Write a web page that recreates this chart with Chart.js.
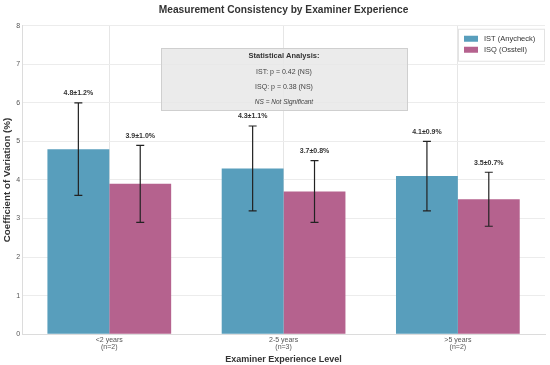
<!DOCTYPE html>
<html>
<head>
<meta charset="utf-8">
<script src="https://cdn.jsdelivr.net/npm/chart.js@4.4.1/dist/chart.umd.min.js"></script>
<style>
  html, body { margin: 0; padding: 0; background: #fff; }
  #wrap { width: 550px; height: 365px; }
</style>
</head>
<body>
<div id="wrap"><canvas id="cvChart" width="550" height="365"></canvas></div>
<script>
const categories = [["<2 years", "(n=2)"], ["2-5 years", "(n=3)"], [">5 years", "(n=2)"]];
const istMean = [4.8, 4.3, 4.1];
const istSd = [1.2, 1.1, 0.9];
const isqMean = [3.9, 3.7, 3.5];
const isqSd = [1.0, 0.8, 0.7];
const statLines = ["Statistical Analysis:", "IST: p = 0.42 (NS)", "ISQ: p = 0.38 (NS)", "NS = Not Significant"];

const FONT = "'Liberation Sans', Arial, sans-serif";
const blue = "rgb(88,158,188)";
const pink = "rgb(181,98,142)";

// error bars + labels above them
const errorBars = {
    id: 'errorBars',
    afterDatasetsDraw(chart) {
        const ctx = chart.ctx;
        const y = chart.scales.y;
        const sds = [istSd, isqSd];
        chart.data.datasets.forEach((ds, di) => {
            const meta = chart.getDatasetMeta(di);
            meta.data.forEach((bar, i) => {
                const m = ds.data[i];
                const sd = sds[di][i];
                const x = bar.x;
                const yTop = y.getPixelForValue(m + sd);
                const yBot = y.getPixelForValue(m - sd);
                ctx.save();
                ctx.strokeStyle = '#222';
                ctx.lineWidth = 1.2;
                ctx.beginPath();
                ctx.moveTo(x, yTop); ctx.lineTo(x, yBot);
                ctx.moveTo(x - 4, yTop); ctx.lineTo(x + 4, yTop);
                ctx.moveTo(x - 4, yBot); ctx.lineTo(x + 4, yBot);
                ctx.stroke();
                ctx.fillStyle = '#333';
                ctx.font = 'bold 7px ' + FONT;
                ctx.textAlign = 'center';
                ctx.textBaseline = 'bottom';
                ctx.fillText(m.toFixed(1) + '\u00b1' + sd.toFixed(1) + '%', x, yTop - 6);
                ctx.restore();
            });
        });
    },
    afterDraw(chart) {
        const ctx = chart.ctx;
        const area = chart.chartArea;
        // stats box
        ctx.save();
        ctx.fillStyle = 'rgba(232,232,232,0.85)';
        ctx.strokeStyle = '#cfcfcf';
        ctx.lineWidth = 1;
        const bx = 161, by = 48, bw = 246, bh = 62;
        ctx.fillRect(bx, by, bw, bh);
        ctx.strokeRect(bx + 0.5, by + 0.5, bw, bh);
        ctx.textAlign = 'center';
        ctx.textBaseline = 'middle';
        const cx = bx + bw / 2;
        ctx.fillStyle = '#333';
        ctx.font = 'bold 7.5px ' + FONT;
        ctx.fillText(statLines[0], cx, 56);
        ctx.fillStyle = '#444';
        ctx.font = '7px ' + FONT;
        ctx.fillText(statLines[1], cx, 72);
        ctx.fillText(statLines[2], cx, 87);
        ctx.font = 'italic 6.5px ' + FONT;
        ctx.fillText(statLines[3], cx, 102);

        // legend
        const lx = area.right - 87, ly = area.top + 3;
        ctx.fillStyle = 'rgba(255,255,255,0.9)';
        ctx.strokeStyle = '#e3e3e3';
        ctx.fillRect(lx, ly, 86, 32);
        ctx.strokeRect(lx + 0.5, ly + 0.5, 86, 32);
        chart.data.datasets.forEach((ds, i) => {
            const yy = ly + 10 + i * 11;
            ctx.fillStyle = ds.backgroundColor;
            ctx.fillRect(lx + 6, yy - 3, 14, 6);
            ctx.fillStyle = '#333';
            ctx.font = '7.5px ' + FONT;
            ctx.textAlign = 'left';
            ctx.fillText(ds.label, lx + 26, yy);
        });
        ctx.restore();
    }
};

new Chart(document.getElementById('cvChart'), {
    type: 'bar',
    data: {
        labels: categories,
        datasets: [
            { label: 'IST (Anycheck)', data: istMean, backgroundColor: blue },
            { label: 'ISQ (Osstell)', data: isqMean, backgroundColor: pink }
        ]
    },
    options: {
        responsive: false,
        animation: false,
        layout: { padding: { left: 1, right: 5, top: 0, bottom: 0.5 } },
        datasets: { bar: { categoryPercentage: 0.71, barPercentage: 1.0 } },
        plugins: {
            legend: { display: false },
            tooltip: { enabled: false },
            title: {
                display: true,
                fullSize: false,
                text: 'Measurement Consistency by Examiner Experience',
                color: '#333',
                font: { family: FONT, size: 10.2, weight: 'bold' },
                padding: { top: 4, bottom: 9.5 }
            }
        },
        scales: {
            x: {
                grid: { color: '#e6e6e6', offset: false, drawTicks: false },
                border: { color: '#dcdcdc' },
                ticks: { color: '#555', font: { family: FONT, size: 7, lineHeight: 1.07 }, padding: 2, maxRotation: 0 },
                title: {
                    display: true, text: 'Examiner Experience Level', color: '#333',
                    font: { family: FONT, size: 9, weight: 'bold' }, padding: { top: 0.5, bottom: 0 }
                }
            },
            y: {
                min: 0, max: 8,
                grid: { color: '#ececec', drawTicks: false },
                border: { color: '#dcdcdc' },
                ticks: { stepSize: 1, color: '#555', font: { family: FONT, size: 7 }, padding: 2 },
                title: {
                    display: true, text: 'Coefficient of Variation (%)', color: '#333',
                    font: { family: FONT, size: 9.8, weight: 'bold' }, padding: { top: 0, bottom: 1.5 }
                }
            }
        }
    },
    plugins: [errorBars]
});
</script>
</body>
</html>
